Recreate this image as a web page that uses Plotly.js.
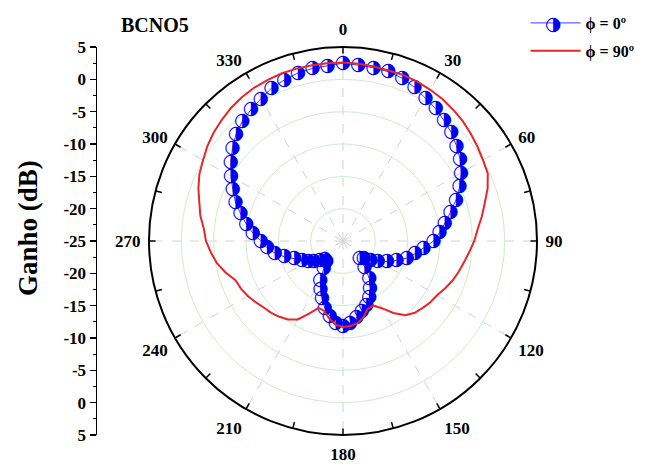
<!DOCTYPE html>
<html>
<head>
<meta charset="utf-8">
<script src="https://cdn.plot.ly/plotly-3.0.1.min.js"></script>
<style>html,body{margin:0;padding:0;background:#fff;}#chart{width:657px;height:466px;}</style>
</head>
<body>
<div id="chart"></div>
<script>
// Angles (degrees)
const angles = [0,5,10,15,20,25,30,35,40,45,50,55,60,65,70,75,80,85,90,95,100,105,110,115,120,125,130,135,140,145,150,155,160,165,170,175,180,185,190,195,200,205,210,215,220,225,230,235,240,245,250,255,260,265,270,275,280,285,290,295,300,305,310,315,320,325,330,335,340,345,350,355];
// Gain, phi = 0 deg (dB)
const gainPhi0 = [2.5,2.3,2.2,2.1,1.8,1.2,0.5,0.0,-0.7,-1.3,-2.1,-2.9,-3.9,-5.1,-6.4,-7.8,-9.0,-10.0,-11.0,-12.5,-13.7,-14.8,-16.2,-17.5,-18.8,-19.8,-20.8,-21.3,-19.8,-17.9,-16.6,-15.4,-14.5,-13.8,-13.0,-12.3,-11.8,-12.3,-13.2,-14.2,-15.5,-16.8,-18.0,-19.8,-21.0,-21.0,-20.3,-19.5,-18.8,-18.0,-17.0,-15.6,-14.3,-13.2,-12.3,-11.0,-9.8,-8.6,-7.3,-6.2,-5.0,-3.8,-2.7,-1.6,-0.8,-0.2,0.4,1.1,1.5,1.9,2.1,2.2];
// Gain, phi = 90 deg (dB)
const gainPhi90 = [2.6,2.5,2.4,2.3,2.3,2.2,2.0,1.8,1.5,1.2,0.8,0.4,0.0,-0.3,-1.2,-2.3,-3.2,-4.1,-4.7,-5.4,-6.0,-6.5,-7.0,-7.6,-8.2,-8.5,-8.9,-9.3,-10.0,-11.4,-13.0,-14.0,-13.8,-12.8,-12.1,-11.8,-11.7,-12.0,-12.8,-13.8,-14.0,-12.6,-11.0,-10.2,-9.7,-9.3,-9.0,-8.5,-8.0,-7.6,-7.3,-6.2,-5.2,-4.5,-3.8,-3.4,-2.6,-2.0,-1.2,-0.5,0.0,0.6,1.1,1.5,1.9,2.2,2.4,2.5,2.6,2.6,2.6,2.6];
// Angular tick labels
const angTicks = [0,30,60,90,120,150,180,210,240,270,300,330];
const angMinorTicks = [0,15,30,45,60,75,90,105,120,135,150,165,180,195,210,225,240,255,270,285,300,315,330,345];
// Radial grid values
const radialGrid = [-20,-15,-10,-5,0];
// Left gain-axis labels (top to bottom along the diameter)
const leftAxisLabels = ['5','0','-5','-10','-15','-20','-25','-20','-15','-10','-5','0','5'];
const leftAxisPos = [30,25,20,15,10,5,0,-5,-10,-15,-20,-25,-30];
const seriesNames = ['\u03D5 = 0\u00BA', '\u03D5 = 90\u00BA'];

const serif = 'Liberation Serif, Times New Roman, serif';
const closeArr = a => a.concat([a[0]]);
const HALF = '\u25D1';

const traces = [
  {type:'scatterpolar', r: closeArr(gainPhi0), theta: closeArr(angles), mode:'lines',
   line:{color:'#3a3aff', width:1}, showlegend:false, hoverinfo:'skip'},
  {type:'scatterpolar', r: gainPhi0, theta: angles, mode:'text', text: gainPhi0.map(()=> HALF),
   textposition:'middle center', textfont:{family:'DejaVu Sans', size:19, color:'#0000ee'}, showlegend:false},
  {type:'scatterpolar', r:[null], theta:[null], mode:'lines', name: seriesNames[0], legendgroup:'a',
   line:{color:'#3a3aff', width:1}},
  {type:'scatterpolar', r: closeArr(gainPhi90), theta: closeArr(angles), mode:'lines', name: seriesNames[1], legendgroup:'b',
   line:{color:'#e8262a', width:2}},
  {type:'scatterpolar', subplot:'polar2', r:[null], theta:[null], mode:'lines', showlegend:false},
  {type:'scatter', x:[null], y:[null], xaxis:'x', yaxis:'y', showlegend:false}
];

const R = 194, cx = 343, cy = 241, W = 657, H = 466;
const dom = {x:[(cx-R)/W,(cx+R)/W], y:[(H-cy-R)/H,(H-cy+R)/H]};

const layout = {
  width: W, height: H,
  margin:{l:0,r:0,t:0,b:0},
  paper_bgcolor:'#ffffff', plot_bgcolor:'rgba(0,0,0,0)',
  font:{family:serif, color:'#000', size:16, weight:'bold'},
  showlegend:true,
  legend:{x:0.80, y:1-6/H, xanchor:'left', yanchor:'top', bgcolor:'rgba(0,0,0,0)',
          font:{family:serif, size:16, color:'#000', weight:'bold'}, traceorder:'grouped', tracegroupgap:4, itemwidth:50},
  polar:{
    domain: dom, bgcolor:'rgba(0,0,0,0)',
    radialaxis:{range:[-25,5], tickvals: radialGrid, showticklabels:false, ticks:'', showline:false,
                gridcolor:'#cdeccd', gridwidth:1},
    angularaxis:{rotation:90, direction:'clockwise', tickvals: angTicks, ticktext: angTicks.map(String),
                 showline:true, linecolor:'#000', linewidth:2, ticks:'outside', ticklen:4, tickcolor:'rgba(0,0,0,0)',
                 gridcolor:'#d2d2d2', gridwidth:1, griddash:'dash',
                 tickfont:{family:serif, size:17, color:'#000', weight:'bold'}}
  },
  polar2:{
    domain: dom, bgcolor:'rgba(0,0,0,0)',
    radialaxis:{visible:false, range:[-25,5]},
    angularaxis:{rotation:90, direction:'clockwise', tickvals: angMinorTicks, showticklabels:false,
                 showline:false, ticks:'inside', ticklen:6, tickwidth:1.5, tickcolor:'#000', showgrid:false}
  },
  xaxis:{domain:[97/W, 0.15], visible:false, range:[0,1], fixedrange:true},
  yaxis:{domain:[(H-435)/H,(H-47)/H], range:[-30,30], anchor:'x', side:'left',
         tickvals:leftAxisPos, ticktext:leftAxisLabels, showline:true, linecolor:'#000', linewidth:1.5,
         ticks:'outside', ticklen:6, tickwidth:1.5, tickcolor:'#000', showgrid:false, zeroline:false,
         minor:{dtick:2.5, ticks:'outside', ticklen:3, tickcolor:'#000', tickwidth:1},
         tickfont:{family:serif, size:17, color:'#000', weight:'bold'}},
  annotations:[
    {text:'BCNO5', xref:'paper', yref:'paper', x:155/W, y:(H-25)/H, xanchor:'center', yanchor:'middle',
     showarrow:false, font:{family:serif, size:20, color:'#000', weight:'bold'}},
    {text:'Ganho (dB)', xref:'paper', yref:'paper', x:28/W, y:(H-228)/H, xanchor:'center', yanchor:'middle',
     textangle:-90, showarrow:false, font:{family:serif, size:27, color:'#000', weight:'bold'}},
    {text:HALF, xref:'paper', yref:'paper', x:553/W, y:(H-23)/H, xanchor:'center', yanchor:'middle',
     showarrow:false, font:{family:'DejaVu Sans', size:19, color:'#0000ee'}}
  ]
};

Plotly.newPlot('chart', traces, layout, {staticPlot:true});
</script>
</body>
</html>
